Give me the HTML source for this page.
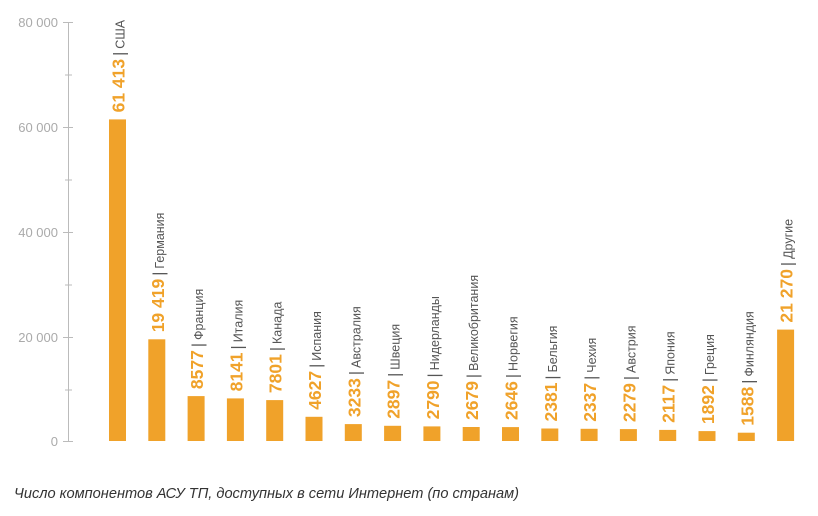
<!DOCTYPE html>
<html><head><meta charset="utf-8"><style>
body{margin:0;background:#fff;width:818px;height:516px;overflow:hidden}
svg{display:block}
.n{font-size:17.5px;font-weight:bold;fill:#f0a22a}
.s{font-size:16px;fill:#555}
.c{font-size:12.5px;fill:#555}
</style></head><body>
<svg width="818" height="516" xmlns="http://www.w3.org/2000/svg" font-family="Liberation Sans, DejaVu Sans, sans-serif">
<g stroke="#bbb" stroke-width="1">
<line x1="68.5" y1="22" x2="68.5" y2="441"/>
<line x1="63" y1="22.5" x2="73" y2="22.5"/>
<line x1="65" y1="75" x2="72" y2="75"/>
<line x1="63" y1="127.5" x2="73" y2="127.5"/>
<line x1="65" y1="180" x2="72" y2="180"/>
<line x1="63" y1="232.5" x2="73" y2="232.5"/>
<line x1="65" y1="285" x2="72" y2="285"/>
<line x1="63" y1="337.5" x2="73" y2="337.5"/>
<line x1="65" y1="390" x2="72" y2="390"/>
<line x1="63" y1="441.5" x2="73" y2="441.5"/>
</g>
<g fill="#aaa" font-size="13" text-anchor="end">
<text x="58" y="27">80 000</text>
<text x="58" y="132">60 000</text>
<text x="58" y="237">40 000</text>
<text x="58" y="342">20 000</text>
<text x="58" y="446">0</text>
</g>
<g fill="#f0a22a">
<rect x="109" y="119.4" width="17" height="321.6"/>
<rect x="148.3" y="339.3" width="17" height="101.7"/>
<rect x="187.6" y="396.1" width="17" height="44.9"/>
<rect x="226.9" y="398.4" width="17" height="42.6"/>
<rect x="266.2" y="400.1" width="17" height="40.9"/>
<rect x="305.5" y="416.8" width="17" height="24.2"/>
<rect x="344.8" y="424.1" width="17" height="16.9"/>
<rect x="384.1" y="425.8" width="17" height="15.2"/>
<rect x="423.4" y="426.4" width="17" height="14.6"/>
<rect x="462.7" y="427" width="17" height="14"/>
<rect x="502" y="427.1" width="17" height="13.9"/>
<rect x="541.3" y="428.5" width="17" height="12.5"/>
<rect x="580.6" y="428.8" width="17" height="12.2"/>
<rect x="619.9" y="429.1" width="17" height="11.9"/>
<rect x="659.2" y="429.9" width="17" height="11.1"/>
<rect x="698.5" y="431.1" width="17" height="9.9"/>
<rect x="737.8" y="432.7" width="17" height="8.3"/>
<rect x="777.1" y="329.6" width="17" height="111.4"/>
</g>
<text transform="translate(124.5,112.4) rotate(-90)"><tspan class="n">61 413</tspan><tspan class="s" dx="3">|</tspan><tspan class="c" dx="3">США</tspan></text>
<text transform="translate(163.8,332.3) rotate(-90)"><tspan class="n">19 419</tspan><tspan class="s" dx="3">|</tspan><tspan class="c" dx="3">Германия</tspan></text>
<text transform="translate(203.1,389.1) rotate(-90)"><tspan class="n">8577</tspan><tspan class="s" dx="3">|</tspan><tspan class="c" dx="3">Франция</tspan></text>
<text transform="translate(242.4,391.4) rotate(-90)"><tspan class="n">8141</tspan><tspan class="s" dx="3">|</tspan><tspan class="c" dx="3">Италия</tspan></text>
<text transform="translate(281.7,393.1) rotate(-90)"><tspan class="n">7801</tspan><tspan class="s" dx="3">|</tspan><tspan class="c" dx="3">Канада</tspan></text>
<text transform="translate(321,409.8) rotate(-90)"><tspan class="n">4627</tspan><tspan class="s" dx="3">|</tspan><tspan class="c" dx="3">Испания</tspan></text>
<text transform="translate(360.3,417.1) rotate(-90)"><tspan class="n">3233</tspan><tspan class="s" dx="3">|</tspan><tspan class="c" dx="3">Австралия</tspan></text>
<text transform="translate(399.6,418.8) rotate(-90)"><tspan class="n">2897</tspan><tspan class="s" dx="3">|</tspan><tspan class="c" dx="3">Швеция</tspan></text>
<text transform="translate(438.9,419.4) rotate(-90)"><tspan class="n">2790</tspan><tspan class="s" dx="3">|</tspan><tspan class="c" dx="3">Нидерланды</tspan></text>
<text transform="translate(478.2,420) rotate(-90)"><tspan class="n">2679</tspan><tspan class="s" dx="3">|</tspan><tspan class="c" dx="3">Великобритания</tspan></text>
<text transform="translate(517.5,420.1) rotate(-90)"><tspan class="n">2646</tspan><tspan class="s" dx="3">|</tspan><tspan class="c" dx="3">Норвегия</tspan></text>
<text transform="translate(556.8,421.5) rotate(-90)"><tspan class="n">2381</tspan><tspan class="s" dx="3">|</tspan><tspan class="c" dx="3">Бельгия</tspan></text>
<text transform="translate(596.1,421.8) rotate(-90)"><tspan class="n">2337</tspan><tspan class="s" dx="3">|</tspan><tspan class="c" dx="3">Чехия</tspan></text>
<text transform="translate(635.4,422.1) rotate(-90)"><tspan class="n">2279</tspan><tspan class="s" dx="3">|</tspan><tspan class="c" dx="3">Австрия</tspan></text>
<text transform="translate(674.7,422.9) rotate(-90)"><tspan class="n">2117</tspan><tspan class="s" dx="3">|</tspan><tspan class="c" dx="3">Япония</tspan></text>
<text transform="translate(714,424.1) rotate(-90)"><tspan class="n">1892</tspan><tspan class="s" dx="3">|</tspan><tspan class="c" dx="3">Греция</tspan></text>
<text transform="translate(753.3,425.7) rotate(-90)"><tspan class="n">1588</tspan><tspan class="s" dx="3">|</tspan><tspan class="c" dx="3">Финляндия</tspan></text>
<text transform="translate(792.6,322.6) rotate(-90)"><tspan class="n">21 270</tspan><tspan class="s" dx="3">|</tspan><tspan class="c" dx="3">Другие</tspan></text>
<text x="14" y="498" font-size="14.6" font-style="italic" fill="#333">Число компонентов АСУ ТП, доступных в сети Интернет (по странам)</text>
</svg>
</body></html>
